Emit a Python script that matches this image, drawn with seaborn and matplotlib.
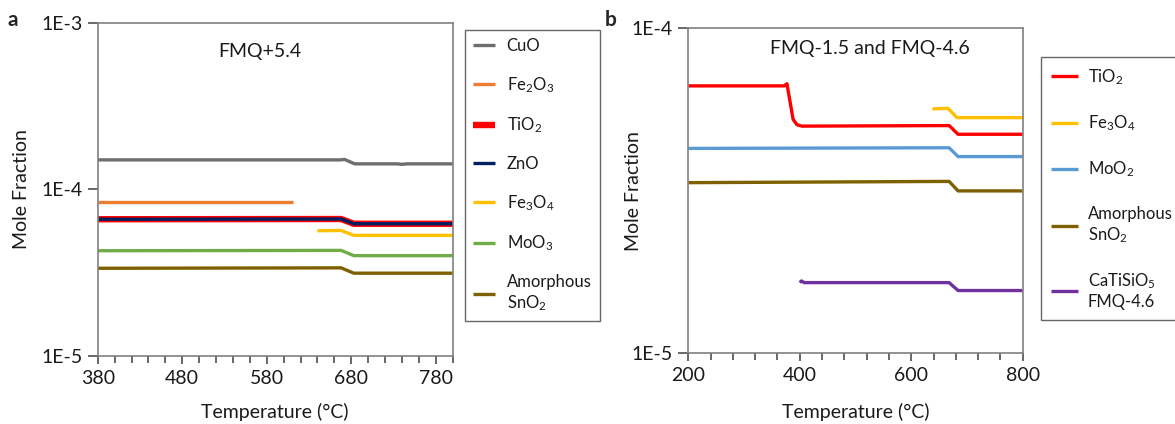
import math
import matplotlib
matplotlib.use("Agg")
import matplotlib.pyplot as plt
import matplotlib.ticker as mticker
import seaborn as sns

# panel a, FMQ+5.4
t_cuo = [380, 668, 672, 684, 734, 740, 746, 800]
cuo = [1.50e-4, 1.50e-4, 1.51e-4, 1.42e-4, 1.42e-4, 1.41e-4, 1.42e-4, 1.42e-4]
t_fe2o3 = [380, 611]
fe2o3 = [8.4e-5, 8.4e-5]
t_a = [380, 668, 683, 800]
tio2_a = [6.6e-5, 6.62e-5, 6.2e-5, 6.2e-5]
zno = [6.6e-5, 6.62e-5, 6.2e-5, 6.2e-5]
t_fe3o4_a = [640, 668, 683, 800]
fe3o4_a = [5.63e-5, 5.65e-5, 5.28e-5, 5.28e-5]
moo3 = [4.27e-5, 4.29e-5, 3.99e-5, 3.99e-5]
sno2_a = [3.35e-5, 3.37e-5, 3.13e-5, 3.13e-5]

# panel b, FMQ-1.5 and FMQ-4.6
t_tio2_b = [200, 372, 377, 388, 395, 404, 668, 684, 800]
tio2_b = [6.65e-5, 6.65e-5, 6.75e-5, 5.25e-5, 5.05e-5, 5.0e-5, 5.02e-5, 4.72e-5, 4.72e-5]
t_fe3o4_b = [638, 666, 682, 800]
fe3o4_b = [5.65e-5, 5.67e-5, 5.31e-5, 5.31e-5]
t_b = [200, 668, 684, 800]
moo2 = [4.27e-5, 4.29e-5, 4.03e-5, 4.03e-5]
sno2_b = [3.35e-5, 3.38e-5, 3.16e-5, 3.16e-5]
t_cts = [400, 403, 408, 668, 684, 800]
catisio5 = [1.65e-5, 1.67e-5, 1.65e-5, 1.65e-5, 1.56e-5, 1.56e-5]

sns.set_theme(style="white")
plt.rcParams["font.family"] = ["Lato", "DejaVu Sans"]
plt.rcParams["mathtext.default"] = "regular"

W, H = 1175, 424
fig = plt.figure(figsize=(W / 100, H / 100), dpi=100)
ax1 = fig.add_axes([97.7 / W, 1 - 355.7 / H, 355 / W, 333 / H])
ax2 = fig.add_axes([688.3 / W, 1 - 353.3 / H, 334.4 / W, 325 / H])

lw = 2.4
series_a = [
    (t_cuo, cuo, "#6e6e6e", lw, "CuO"),
    (t_fe2o3, fe2o3, "#ed7d31", lw, "Fe$_2$O$_3$"),
    (t_a, tio2_a, "#ff0000", 4.6, "TiO$_2$"),
    (t_a, zno, "#002060", lw, "ZnO"),
    (t_fe3o4_a, fe3o4_a, "#ffc000", lw, "Fe$_3$O$_4$"),
    (t_a, moo3, "#70ad47", lw, "MoO$_3$"),
    (t_a, sno2_a, "#7f6000", lw, "Amorphous\nSnO$_2$"),
]
series_b = [
    (t_tio2_b, tio2_b, "#ff0000", lw, "TiO$_2$"),
    (t_fe3o4_b, fe3o4_b, "#ffc000", lw, "Fe$_3$O$_4$"),
    (t_b, moo2, "#5b9bd5", lw, "MoO$_2$"),
    (t_b, sno2_b, "#7f6000", lw, "Amorphous\nSnO$_2$"),
    (t_cts, catisio5, "#7030a0", lw, "CaTiSiO$_5$\nFMQ-4.6"),
]

for ax, series in [(ax1, series_a), (ax2, series_b)]:
    for x, y, c, w, lab in series:
        sns.lineplot(x=x, y=y, ax=ax, color=c, linewidth=w, label=lab,
                     solid_capstyle="butt")
    ax.set_yscale("log")
    ax.get_legend().remove()
    for s in ax.spines.values():
        s.set_visible(True)
        s.set_color("#808080")
        s.set_linewidth(1.2)
    ax.set_ylabel("Mole Fraction", fontsize=14, color="#1a1a1a")
    ax.set_xlabel("Temperature (°C)", fontsize=14, color="#1a1a1a")
    ax.tick_params(axis="both", which="both", direction="out", colors="#404040",
                   labelcolor="#1a1a1a", labelsize=14, width=1.1,
                   bottom=True, left=True, top=False, right=False, pad=4)
    ax.tick_params(axis="x", which="major", length=6)
    ax.tick_params(axis="x", which="minor", length=5)
    ax.tick_params(axis="y", which="major", length=7)
    ax.yaxis.set_major_formatter(
        mticker.FuncFormatter(lambda v, p: "1E%d" % round(math.log10(v))))

ax1.set_xlim(380, 800)
ax1.set_ylim(1e-5, 1e-3)
ax1.set_xticks([380, 480, 580, 680, 780])
ax1.xaxis.set_minor_locator(mticker.MultipleLocator(20))
ax1.set_yticks([1e-5, 1e-4, 1e-3])
ax1.yaxis.set_minor_locator(mticker.NullLocator())
ax1.text(0.457, 0.915, "FMQ+5.4", transform=ax1.transAxes, ha="center",
         va="center", fontsize=14, color="#1a1a1a")

ax2.set_xlim(200, 800)
ax2.set_ylim(1e-5, 1e-4)
ax2.set_xticks([200, 400, 600, 800])
ax2.xaxis.set_minor_locator(mticker.MultipleLocator(40))
ax2.set_yticks([1e-5, 1e-4])
ax2.yaxis.set_minor_locator(mticker.NullLocator())
ax2.text(0.543, 0.938, "FMQ-1.5 and FMQ-4.6", transform=ax2.transAxes,
         ha="center", va="center", fontsize=14, color="#1a1a1a")

ax1.yaxis.set_label_coords(-0.19, 0.5)
ax2.yaxis.set_label_coords(-0.138, 0.5)
ax1.xaxis.set_label_coords(0.5, -0.142)
ax2.xaxis.set_label_coords(0.5, -0.153)

h1, l1 = ax1.get_legend_handles_labels()
leg1 = fig.legend(h1, l1, loc="upper left", bbox_to_anchor=(465 / W, 1 - 30 / H),
                  frameon=True, fancybox=False, edgecolor="#404040", fontsize=12,
                  handlelength=1.3, handletextpad=0.7, labelspacing=1.25,
                  borderpad=0.5, borderaxespad=0)
leg1.get_frame().set_linewidth(1.0)
h2, l2 = ax2.get_legend_handles_labels()
leg2 = fig.legend(h2, l2, loc="upper left", bbox_to_anchor=(1041 / W, 1 - 57 / H),
                  frameon=True, fancybox=False, edgecolor="#404040", fontsize=12,
                  handlelength=1.6, handletextpad=0.6, labelspacing=1.6,
                  borderpad=0.6, borderaxespad=0)
leg2.get_frame().set_linewidth(1.0)
for leg in (leg1, leg2):
    for t in leg.get_texts():
        t.set_color("#1a1a1a")

fig.text(8 / W, 1 - 20 / H, "a", fontsize=15, fontweight="bold", va="center")
fig.text(605 / W, 1 - 20 / H, "b", fontsize=15, fontweight="bold", va="center")

fig.savefig("out.png", dpi=100)
